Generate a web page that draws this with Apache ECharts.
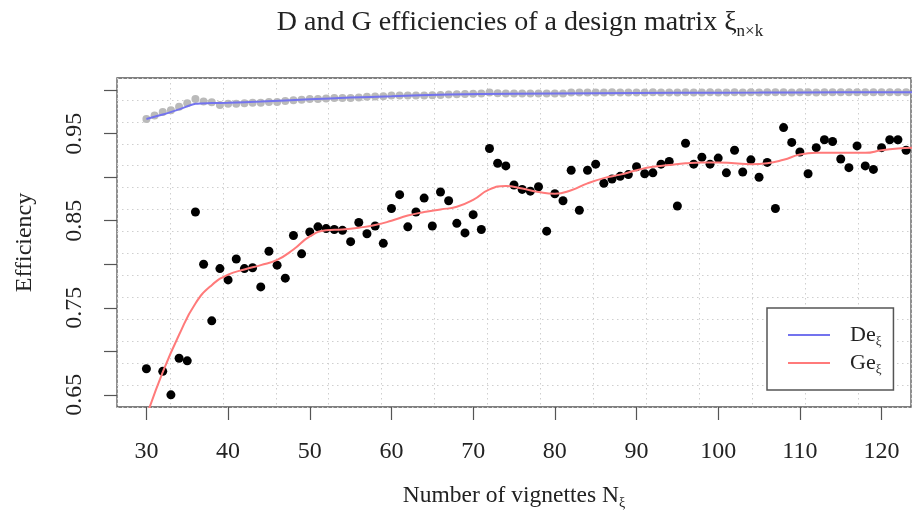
<!DOCTYPE html>
<html>
<head>
<meta charset="utf-8">
<script src="https://cdn.jsdelivr.net/npm/echarts@6/dist/echarts.min.js"></script>
<style>
html,body{margin:0;padding:0;background:#fff;}
#chart{width:921px;height:511px;}
</style>
</head>
<body>
<div id="chart"></div>
<script>
// ---- data ----
const nValues = [30,31,32,33,34,35,36,37,38,39,40,41,42,43,44,45,46,47,48,49,50,51,52,53,54,55,56,57,58,59,
  60,61,62,63,64,65,66,67,68,69,70,71,72,73,74,75,76,77,78,79,80,81,82,83,84,85,86,87,88,89,
  90,91,92,93,94,95,96,97,98,99,100,101,102,103,104,105,106,107,108,109,110,111,112,113,114,115,116,117,118,119,
  120,121,122,123];

const deValues = [0.967,0.971,0.975,0.977,0.981,0.985,0.990,0.987,0.986,0.983,
  0.9845,0.9845,0.985,0.9855,0.9855,0.9865,0.9865,0.9875,0.9885,0.989,
  0.990,0.990,0.9905,0.991,0.991,0.991,0.9915,0.9924,0.9927,0.993,
  0.994,0.994,0.994,0.994,0.994,0.9943,0.9945,0.995,0.9953,0.9955,
  0.9958,0.9963,0.9974,0.9966,0.9962,0.9962,0.9962,0.9962,0.9962,0.9962,
  0.9962,0.9962,0.9973,0.9974,0.9974,0.9974,0.9974,0.9975,0.9974,0.9974,
  0.9974,0.9974,0.9975,0.9974,0.9974,0.9974,0.9975,0.9974,0.9974,0.9975,
  0.9974,0.9974,0.9975,0.9974,0.9975,0.9974,0.9975,0.9976,0.9975,0.9974,
  0.9975,0.9975,0.9974,0.9975,0.9976,0.9975,0.9975,0.9975,0.9976,0.9975,
  0.9975,0.9976,0.9976,0.9976];

const geValues = [0.680,null,0.677,0.650,0.692,0.689,0.860,0.800,0.735,0.795,
  0.782,0.806,0.795,0.796,0.774,0.815,0.799,0.784,0.833,0.812,
  0.837,0.843,0.841,0.840,0.839,0.826,0.848,0.835,0.844,0.824,
  0.864,0.880,0.843,0.860,0.876,0.844,0.883,0.873,0.847,0.836,
  0.857,0.840,0.933,0.916,0.913,0.891,0.886,0.884,0.889,0.838,
  0.881,0.873,0.908,0.862,0.908,0.915,0.893,0.898,0.901,0.903,
  0.912,0.904,0.905,0.915,0.918,0.867,0.939,0.915,0.923,0.915,
  0.922,0.905,0.931,0.906,0.920,0.900,0.917,0.864,0.957,0.940,
  0.929,0.904,0.934,0.943,0.941,0.921,0.911,0.936,0.913,0.909,
  0.934,0.943,0.943,0.931];

// smoothed curves
const deCurveN = [30,32,34,36,38,40,44,50,55,60,67,75,85,95,105,115,124];
const deCurveValues = [0.967,0.972,0.978,0.9843,0.9852,0.9856,0.987,0.9895,0.9915,0.993,0.995,0.996,0.9965,0.997,0.9972,0.9975,0.9977];

const geCurveN = [30,32,34,36,38,40,42,44,46,48,50,52,54,56,58,60,62,64,66,68,70,72,74,76,78,80,82,84,86,88,90,92,94,96,98,100,102,104,106,108,110,112,114,116,118,120,122,124];
const geCurveValues = [0.625,0.676,0.719,0.755,0.776,0.788,0.794,0.799,0.805,0.817,0.832,0.839,0.840,0.842,0.845,0.850,0.856,0.860,0.863,0.866,0.874,0.886,0.890,0.887,0.883,0.881,0.885,0.893,0.899,0.903,0.908,0.912,0.914,0.916,0.917,0.917,0.916,0.915,0.916,0.920,0.926,0.928,0.928,0.928,0.928,0.931,0.933,0.934];

const xTicks = [30,40,50,60,70,80,90,100,110,120];
const yTicks = [0.65,0.70,0.75,0.80,0.85,0.90,0.95,1.00];
const yLabels = [0.65,0.75,0.85,0.95];

// ---- chart ----
const FONT = 'Liberation Serif';
const TXT = '#222';
const BOX = '#555';
const zip = (a, b) => a.map((v, i) => [v, b[i]]);

const chart = echarts.init(document.getElementById('chart'), null, {renderer: 'canvas'});
chart.setOption({
  animation: false,
  backgroundColor: '#fff',
  title: {
    text: 'D and G efficiencies of a design matrix ξ{sub|n×k}',
    left: 520, top: 5, padding: 0, textAlign: 'center',
    textStyle: {
      fontFamily: FONT, fontSize: 28, fontWeight: 'normal', color: TXT, lineHeight: 35,
      rich: {sub: {fontFamily: FONT, fontSize: 17, color: TXT, lineHeight: 17, verticalAlign: 'bottom'}}
    }
  },
  legend: {
    orient: 'vertical', left: 767, top: 308,
    padding: [14, 12, 14, 21], itemGap: 2,
    backgroundColor: '#fff', borderColor: BOX, borderWidth: 1.5, borderRadius: 0,
    icon: 'rect', itemWidth: 42, itemHeight: 2,
    data: ['De', 'Ge'],
    formatter: name => name + '{sub|ξ}',
    textStyle: {
      fontFamily: FONT, fontSize: 22, color: TXT, lineHeight: 26, padding: [0, 0, 0, 15],
      rich: {sub: {fontFamily: FONT, fontSize: 13, color: TXT, lineHeight: 13, verticalAlign: 'bottom'}}
    }
  },
  grid: {
    left: 117, right: 10, top: 78, bottom: 104,
    show: true, borderColor: BOX, borderWidth: 1.3, backgroundColor: 'transparent',
    containLabel: false, outerBoundsMode: 'none'
  },
  xAxis: [{
    type: 'value', min: 26.4, max: 123.6, position: 'bottom',
    axisLine: {show: false},
    axisTick: {show: true, length: 13, lineStyle: {color: BOX, width: 1.2}, customValues: xTicks},
    axisLabel: {fontFamily: FONT, fontSize: 24, color: TXT, margin: 33, customValues: xTicks},
    splitLine: {show: false},
    name: 'Number of vignettes N{sub|ξ}', nameLocation: 'middle', nameGap: 75,
    nameTextStyle: {
      fontFamily: FONT, fontSize: 23.5, color: TXT, lineHeight: 28,
      rich: {sub: {fontFamily: FONT, fontSize: 14, color: TXT, lineHeight: 14, verticalAlign: 'bottom'}}
    }
  }, {
    type: 'value', min: 0, max: 15, interval: 1, position: 'top',
    axisLine: {show: false}, axisTick: {show: false}, axisLabel: {show: false},
    splitLine: {show: true, lineStyle: {color: '#cfcfcf', width: 1, type: [1.5, 3.5]}}
  }],
  yAxis: [{
    type: 'value', min: 0.636, max: 1.014, position: 'left',
    axisLine: {show: false},
    axisTick: {show: true, length: 13, lineStyle: {color: BOX, width: 1.2}, customValues: yTicks},
    axisLabel: {fontFamily: FONT, fontSize: 24, color: TXT, margin: 30, rotate: 90,
      customValues: yLabels, formatter: v => v.toFixed(2)},
    splitLine: {show: false},
    name: 'Efficiency', nameLocation: 'middle', nameGap: 80,
    nameTextStyle: {fontFamily: FONT, fontSize: 24, color: TXT}
  }, {
    type: 'value', min: 0, max: 15, interval: 1, position: 'right',
    axisLine: {show: false}, axisTick: {show: false}, axisLabel: {show: false},
    splitLine: {show: true, lineStyle: {color: '#cfcfcf', width: 1, type: [1.5, 3.5]}}
  }],
  series: [
    {
      name: 'De points', type: 'scatter', xAxisIndex: 0, yAxisIndex: 0,
      data: zip(nValues, deValues), symbolSize: 8, clip: true,
      itemStyle: {color: '#bababa', opacity: 1}, z: 2
    },
    {
      name: 'Ge points', type: 'scatter', xAxisIndex: 0, yAxisIndex: 0,
      data: zip(nValues, geValues).filter(p => p[1] !== null), symbolSize: 9, clip: true,
      itemStyle: {color: '#000', opacity: 1}, z: 3
    },
    {
      name: 'De', type: 'line', xAxisIndex: 0, yAxisIndex: 0,
      data: zip(deCurveN, deCurveValues), smooth: 0.3, showSymbol: false, symbol: 'none', clip: true,
      color: '#7373ee', lineStyle: {color: '#7373ee', width: 2}, z: 4
    },
    {
      name: 'Ge', type: 'line', xAxisIndex: 0, yAxisIndex: 0,
      data: zip(geCurveN, geCurveValues), smooth: true, showSymbol: false, symbol: 'none', clip: true,
      color: '#ff7a7a', lineStyle: {color: '#ff7a7a', width: 2}, z: 5
    }
  ]
});
</script>
</body>
</html>
